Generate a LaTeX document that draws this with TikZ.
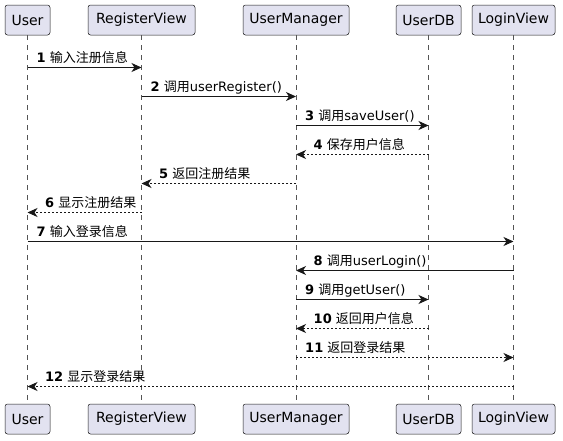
\documentclass[tikz,border=0pt]{standalone}
\usepackage{fontspec}
\setmainfont{DejaVu Sans}
\newfontfamily\cjk{Noto Sans CJK SC}
\usetikzlibrary{arrows.meta}
\definecolor{pfill}{HTML}{E2E2F0}
\definecolor{pline}{HTML}{181818}
\definecolor{lline}{HTML}{555555}
\tikzset{
  part/.style={draw=pline, fill=pfill, rounded corners=2.5pt, line width=0.5pt,
    minimum height=30pt, inner sep=0pt, font=\fontsize{14}{16}\selectfont, text=black},
  life/.style={draw=lline, line width=0.5pt, dash pattern=on 5pt off 5pt},
  call/.style={draw=pline, line width=1pt, -{Stealth[length=10pt,width=9pt,inset=3pt]}},
  ret/.style={call, dash pattern=on 2pt off 2pt},
  lbl/.style={anchor=base west, inner sep=0pt, font=\fontsize{13}{15}\selectfont, text=black}
}
\newcommand{\nm}[1]{\textbf{#1}~}
\begin{document}
\begin{tikzpicture}[x=1pt,y=-1pt]
\useasboundingbox (0,0) rectangle (563,440);
% participants
\foreach \n/\t/\l/\r in {u/User/5/50, rv/RegisterView/88/195, um/UserManager/243/349, db/UserDB/396/461, lv/LoginView/472/555}{
  \node[part, minimum width={(\r-\l)*1pt}] (\n T) at ({(\l+\r)/2},20) {\t};
  \node[part, minimum width={(\r-\l)*1pt}] (\n B) at ({(\l+\r)/2},419) {\t};
  \draw[life] (\n T) -- (\n B);
  \foreach \i [evaluate=\i as \yy using 67.5+(\i-1)*29] in {1,...,12}{
    \coordinate (\n\i) at ({(\l+\r)/2},\yy);
  }
}
\draw[call] (u1) -- (rv1);
\node[lbl] (l1) at ([shift={(9,-5)}]u1) {\nm{1}{\cjk 输入注册信息}};
\draw[call] (rv2) -- (um2);
\node[lbl] (l2) at ([shift={(9,-5)}]rv2) {\nm{2}{\cjk 调用}userRegister()};
\draw[call] (um3) -- (db3);
\node[lbl] (l3) at ([shift={(9,-5)}]um3) {\nm{3}{\cjk 调用}saveUser()};
\draw[ret] (db4) -- (um4);
\node[lbl] (l4) at ([shift={(17.5,-5)}]um4) {\nm{4}{\cjk 保存用户信息}};
\draw[ret] (um5) -- (rv5);
\node[lbl] (l5) at ([shift={(17.5,-5)}]rv5) {\nm{5}{\cjk 返回注册结果}};
\draw[ret] (rv6) -- (u6);
\node[lbl] (l6) at ([shift={(17.5,-5)}]u6) {\nm{6}{\cjk 显示注册结果}};
\draw[call] (u7) -- (lv7);
\node[lbl] (l7) at ([shift={(9,-5)}]u7) {\nm{7}{\cjk 输入登录信息}};
\draw[call] (lv8) -- (um8);
\node[lbl] (l8) at ([shift={(17.5,-5)}]um8) {\nm{8}{\cjk 调用}userLogin()};
\draw[call] (um9) -- (db9);
\node[lbl] (l9) at ([shift={(9,-5)}]um9) {\nm{9}{\cjk 调用}getUser()};
\draw[ret] (db10) -- (um10);
\node[lbl] (l10) at ([shift={(17.5,-5)}]um10) {\nm{10}{\cjk 返回用户信息}};
\draw[ret] (um11) -- (lv11);
\node[lbl] (l11) at ([shift={(9,-5)}]um11) {\nm{11}{\cjk 返回登录结果}};
\draw[ret] (lv12) -- (u12);
\node[lbl] (l12) at ([shift={(17.5,-5)}]u12) {\nm{12}{\cjk 显示登录结果}};
\end{tikzpicture}
\end{document}
